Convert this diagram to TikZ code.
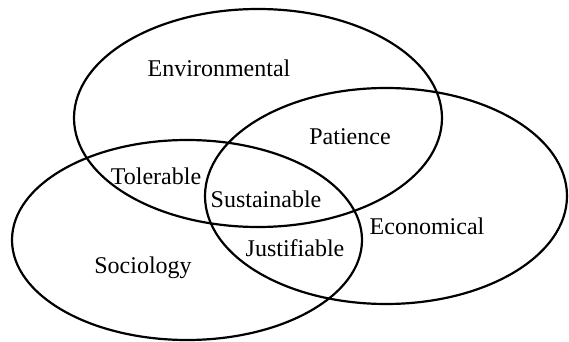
\documentclass[tikz,border=0pt]{standalone}
\usepackage{fontspec}
\setmainfont{Liberation Serif}
\usepackage{tikz}
\tikzstyle{area}=[draw=black,line width=1.1pt]
\tikzstyle{areatext}=[inner sep=0pt,font=\fontsize{12}{14}\selectfont]
\newcommand{\pxunit}{0.5pt}

\begin{document}
\begin{tikzpicture}[x=\pxunit,y=-\pxunit]
    \useasboundingbox (0,0) rectangle (569,342);
    \coordinate (env) at (258,118);
    \coordinate (eco) at (386,196);
    \coordinate (soc) at (187,240);
    \draw[area] (env) ellipse [x radius=184, y radius=109];
    \draw[area] (eco) ellipse [x radius=181, y radius=108];
    \draw[area] (soc) ellipse [x radius=175, y radius=100];
%    labels
    \node[areatext] (environmental) at (219,68)  {Environmental};
    \node[areatext] (patience)      at (350,137) {Patience};
    \node[areatext] (tolerable)     at (156,176) {Tolerable};
    \node[areatext] (sustainable)   at (266,199) {Sustainable};
    \node[areatext] (economical)    at (427,226) {Economical};
    \node[areatext] (justifiable)   at (295,248) {Justifiable};
    \node[areatext] (sociology)     at (143,268) {Sociology};
\end{tikzpicture}
\end{document}
